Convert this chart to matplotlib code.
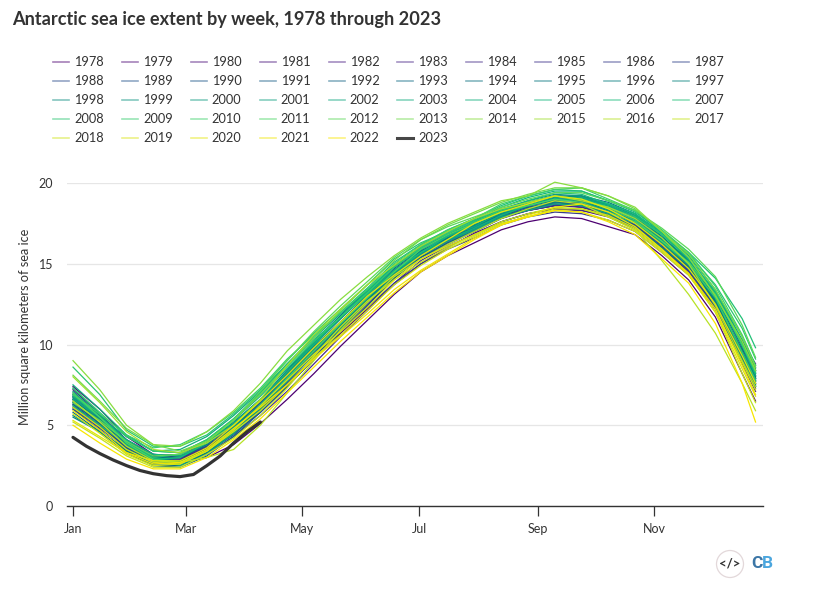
#! /usr/bin/env python3

import matplotlib

matplotlib.use("Agg")
import matplotlib.pyplot as plt
import numpy as np
from matplotlib.colors import LinearSegmentedColormap
from matplotlib.lines import Line2D
from matplotlib.patches import Circle

# day of the year for the values below (every second week, then the last week)
days = [0, 14, 28, 42, 56, 70, 84, 98, 112, 126, 140, 154, 168, 182, 196, 210, 224, 238, 252, 266, 280, 294, 308, 322, 336, 350, 357]

# million square km
y1978 = [6.9, 5.4, 3.9, 2.9, 2.7, 3.0, 3.8, 5.1, 6.6, 8.2, 9.9, 11.5, 13.1, 14.5, 15.5, 16.3, 17.1, 17.6, 17.9, 17.8, 17.3, 16.8, 15.5, 14.0, 11.7, 8.2, 6.5]
y1979 = [7.4, 6.0, 4.3, 3.2, 3.0, 3.5, 4.5, 5.8, 7.4, 9.1, 10.7, 12.2, 13.7, 15.0, 16.0, 16.9, 17.6, 18.1, 18.4, 18.3, 17.9, 17.2, 15.9, 14.5, 12.4, 9.7, 8.4]
y1980 = [7.2, 5.7, 4.1, 3.1, 3.2, 3.9, 5.1, 6.4, 8.0, 9.7, 11.3, 12.9, 14.5, 15.7, 16.5, 17.2, 17.9, 18.3, 18.6, 18.5, 18.1, 17.4, 16.2, 14.9, 12.9, 10.2, 8.8]
y1981 = [6.4, 5.1, 3.8, 2.9, 2.8, 3.5, 4.6, 6.1, 7.7, 9.4, 11.0, 12.7, 14.2, 15.4, 16.2, 17.0, 17.8, 18.3, 18.6, 18.9, 18.4, 17.7, 16.4, 14.9, 12.8, 9.5, 8.0]
y1982 = [6.8, 5.4, 4.0, 3.1, 3.0, 3.6, 4.8, 6.0, 7.6, 9.2, 10.9, 12.5, 14.1, 15.5, 16.4, 17.1, 18.0, 18.6, 19.0, 18.9, 18.3, 17.6, 16.2, 14.7, 12.5, 9.1, 7.8]
y1983 = [6.0, 4.9, 3.7, 2.9, 2.9, 3.7, 4.9, 6.4, 8.1, 9.8, 11.4, 13.0, 14.6, 15.8, 16.6, 17.4, 18.0, 18.4, 18.7, 18.5, 18.0, 17.3, 16.0, 14.5, 12.2, 8.9, 7.3]
y1984 = [6.3, 5.0, 3.6, 2.8, 2.7, 3.2, 4.3, 5.6, 7.1, 8.8, 10.5, 12.1, 13.8, 15.2, 16.1, 16.8, 17.6, 18.1, 18.4, 18.3, 18.0, 17.4, 16.0, 14.6, 12.3, 8.8, 7.1]
y1985 = [6.6, 5.3, 3.9, 3.0, 2.9, 3.5, 4.7, 6.1, 7.7, 9.4, 11.0, 12.7, 14.3, 15.6, 16.4, 17.1, 17.9, 18.3, 18.6, 18.6, 18.2, 17.6, 16.3, 14.9, 12.7, 9.4, 7.6]
y1986 = [6.1, 4.8, 3.6, 2.8, 2.8, 3.6, 4.6, 5.9, 7.5, 9.1, 10.8, 12.3, 13.8, 15.0, 15.9, 16.6, 17.4, 17.9, 18.2, 18.1, 17.7, 17.0, 15.7, 14.3, 12.2, 9.3, 7.9]
y1987 = [6.7, 5.3, 3.9, 3.0, 3.0, 3.7, 4.9, 6.2, 7.9, 9.6, 11.2, 12.8, 14.4, 15.7, 16.6, 17.3, 18.0, 18.5, 18.8, 18.7, 18.3, 17.7, 16.5, 15.1, 13.0, 10.1, 8.6]
y1988 = [7.0, 5.6, 4.1, 3.2, 3.1, 3.7, 5.0, 6.4, 8.0, 9.7, 11.3, 12.9, 14.2, 15.4, 16.3, 17.1, 18.0, 18.6, 18.9, 18.7, 18.1, 17.4, 16.1, 14.7, 12.4, 9.0, 7.5]
y1989 = [6.2, 4.9, 3.6, 2.7, 2.6, 3.3, 4.4, 5.9, 7.5, 9.2, 11.0, 12.7, 14.3, 15.6, 16.5, 17.2, 17.9, 18.4, 18.7, 18.6, 18.1, 17.3, 16.0, 14.6, 12.3, 8.9, 7.4]
y1990 = [6.0, 4.7, 3.4, 2.6, 2.7, 3.5, 4.9, 6.4, 8.1, 9.8, 11.4, 13.0, 14.5, 15.7, 16.6, 17.4, 18.1, 18.5, 18.8, 18.8, 18.3, 17.6, 16.3, 14.9, 12.7, 9.3, 7.7]
y1991 = [6.5, 5.1, 3.8, 2.9, 2.8, 3.4, 4.6, 6.1, 7.8, 9.5, 11.1, 12.7, 14.3, 15.6, 16.5, 17.3, 18.2, 18.8, 19.2, 19.2, 18.6, 17.8, 16.4, 14.8, 12.5, 9.2, 7.6]
y1992 = [6.3, 4.9, 3.5, 2.5, 2.4, 3.1, 4.3, 5.8, 7.4, 9.1, 10.8, 12.4, 14.1, 15.4, 16.3, 17.0, 17.8, 18.4, 18.8, 18.8, 18.3, 17.5, 16.2, 14.8, 12.7, 9.5, 7.9]
y1993 = [5.8, 4.6, 3.3, 2.5, 2.5, 3.3, 4.6, 6.2, 7.9, 9.7, 11.4, 13.1, 14.7, 15.9, 16.8, 17.5, 18.3, 18.8, 19.1, 19.0, 18.5, 17.8, 16.6, 15.2, 13.0, 9.8, 8.1]
y1994 = [6.8, 5.5, 4.0, 3.0, 3.0, 3.8, 5.1, 6.6, 8.3, 10.1, 11.7, 13.3, 14.9, 16.0, 16.8, 17.4, 18.1, 18.6, 19.0, 19.0, 18.6, 17.9, 16.5, 15.1, 12.8, 9.4, 7.8]
y1995 = [6.4, 5.1, 3.7, 2.9, 2.8, 3.5, 4.8, 6.6, 8.4, 10.2, 11.8, 13.4, 14.8, 16.1, 17.0, 17.7, 18.2, 18.6, 18.9, 19.1, 18.7, 18.0, 16.7, 15.2, 12.9, 9.6, 8.0]
y1996 = [6.6, 5.3, 3.9, 3.1, 3.1, 3.8, 5.1, 6.5, 8.2, 10.0, 11.6, 13.2, 14.6, 15.8, 16.6, 17.3, 18.0, 18.6, 19.1, 19.2, 18.8, 18.1, 16.6, 15.1, 12.6, 9.0, 7.4]
y1997 = [5.6, 4.6, 3.4, 2.6, 2.6, 3.3, 4.5, 6.1, 7.9, 9.6, 11.2, 12.8, 14.4, 15.7, 16.5, 17.2, 17.9, 18.4, 18.8, 18.6, 18.1, 17.3, 16.0, 14.7, 12.6, 9.2, 7.5]
y1998 = [5.5, 4.6, 3.5, 2.8, 3.0, 3.9, 5.2, 6.6, 8.2, 9.9, 11.4, 12.9, 14.5, 15.9, 16.8, 17.6, 18.3, 18.8, 19.2, 19.1, 18.6, 17.9, 16.6, 15.3, 13.1, 10.0, 8.2]
y1999 = [6.9, 5.4, 3.9, 2.9, 2.7, 3.4, 4.6, 6.1, 7.7, 9.4, 11.1, 12.7, 14.3, 15.7, 16.7, 17.4, 18.1, 18.6, 19.0, 18.9, 18.4, 17.7, 16.4, 15.0, 12.8, 9.6, 7.9]
y2000 = [6.7, 5.3, 3.7, 2.8, 2.6, 3.4, 4.9, 6.6, 8.3, 10.0, 11.6, 13.2, 14.8, 16.0, 16.9, 17.6, 18.4, 18.9, 19.3, 19.2, 18.6, 17.8, 16.5, 15.2, 13.1, 10.1, 8.3]
y2001 = [7.1, 5.6, 4.0, 3.0, 2.7, 3.4, 4.8, 6.3, 8.0, 9.7, 11.3, 12.9, 14.4, 15.6, 16.5, 17.1, 18.0, 18.6, 19.0, 18.9, 18.3, 17.6, 16.3, 15.1, 13.2, 10.3, 8.5]
y2002 = [7.3, 5.7, 3.9, 2.9, 2.5, 3.2, 4.5, 6.0, 7.7, 9.4, 11.0, 12.6, 14.2, 15.5, 16.4, 17.1, 17.9, 18.3, 18.7, 18.6, 18.1, 17.5, 16.3, 14.9, 12.9, 9.4, 7.7]
y2003 = [6.6, 5.5, 4.3, 3.4, 3.5, 4.3, 5.6, 7.1, 8.8, 10.4, 11.9, 13.4, 14.8, 15.9, 16.7, 17.3, 18.2, 18.7, 19.1, 19.1, 18.7, 18.1, 16.9, 15.5, 13.4, 10.2, 8.4]
y2004 = [7.5, 6.0, 4.4, 3.4, 3.3, 4.1, 5.3, 6.8, 8.5, 10.1, 11.7, 13.2, 14.6, 15.7, 16.5, 17.2, 18.0, 18.6, 19.0, 19.0, 18.6, 18.0, 16.8, 15.4, 13.2, 9.9, 8.1]
y2005 = [6.8, 5.5, 4.1, 3.2, 3.1, 3.9, 5.1, 6.6, 8.3, 10.0, 11.7, 13.3, 14.9, 16.1, 17.0, 17.7, 18.5, 19.1, 19.5, 19.5, 18.9, 18.3, 16.9, 15.4, 13.0, 10.0, 8.2]
y2006 = [6.2, 5.0, 3.8, 2.9, 3.0, 3.9, 5.3, 7.0, 8.7, 10.3, 11.7, 13.1, 14.5, 15.7, 16.7, 17.5, 18.3, 18.9, 19.4, 19.3, 18.7, 18.1, 16.8, 15.3, 13.3, 10.5, 8.7]
y2007 = [6.9, 5.5, 4.0, 3.0, 3.2, 4.1, 5.4, 7.0, 8.8, 10.5, 12.0, 13.5, 15.1, 16.2, 17.1, 17.8, 18.6, 19.2, 19.6, 19.5, 18.9, 18.2, 17.0, 15.7, 14.1, 11.6, 9.8]
y2008 = [8.6, 6.9, 4.7, 3.7, 3.7, 4.4, 5.7, 7.2, 9.0, 10.7, 12.2, 13.7, 15.3, 16.3, 17.0, 17.7, 18.4, 18.8, 19.2, 19.0, 18.5, 17.9, 16.8, 15.6, 13.7, 11.0, 9.1]
y2009 = [7.3, 5.8, 4.3, 3.4, 3.3, 4.1, 5.4, 6.9, 8.6, 10.2, 11.7, 13.2, 14.8, 16.0, 16.9, 17.6, 18.3, 18.8, 19.2, 19.0, 18.4, 17.7, 16.4, 15.0, 12.9, 9.5, 7.8]
y2010 = [6.9, 5.7, 4.4, 3.6, 3.8, 4.6, 5.8, 7.3, 9.1, 10.6, 12.0, 13.4, 15.0, 16.2, 17.1, 17.8, 18.7, 19.2, 19.6, 19.7, 19.0, 18.3, 17.1, 15.7, 13.6, 10.6, 8.7]
y2011 = [7.0, 5.5, 3.9, 2.9, 2.7, 3.4, 4.7, 6.2, 7.9, 9.6, 11.3, 12.9, 14.5, 15.9, 16.8, 17.5, 18.2, 18.6, 19.0, 18.8, 18.2, 17.6, 16.4, 15.1, 13.1, 10.0, 8.3]
y2012 = [6.4, 5.3, 4.0, 3.1, 3.2, 4.0, 5.3, 7.1, 9.0, 10.8, 12.4, 13.9, 15.4, 16.5, 17.3, 17.9, 18.5, 19.0, 19.4, 19.4, 18.9, 18.3, 17.2, 15.9, 14.2, 11.2, 9.2]
y2013 = [8.1, 6.5, 4.8, 3.8, 3.4, 4.0, 5.3, 6.9, 8.7, 10.4, 12.1, 13.7, 15.2, 16.5, 17.4, 18.1, 18.8, 19.3, 19.7, 19.7, 19.2, 18.4, 17.0, 15.6, 13.4, 10.5, 8.6]
y2014 = [9.0, 7.2, 5.0, 3.8, 3.7, 4.6, 5.9, 7.6, 9.6, 11.2, 12.8, 14.2, 15.5, 16.6, 17.5, 18.2, 18.9, 19.2, 20.05, 19.7, 19.2, 18.5, 17.0, 15.4, 13.0, 10.2, 8.4]
y2015 = [8.0, 6.4, 4.6, 3.5, 3.3, 3.9, 5.0, 6.6, 8.7, 10.6, 12.2, 13.7, 14.9, 16.1, 17.0, 17.8, 18.4, 18.8, 19.2, 18.9, 18.5, 17.8, 16.6, 15.0, 12.4, 9.0, 7.4]
y2016 = [6.5, 5.2, 3.7, 2.8, 2.7, 3.0, 3.5, 5.0, 7.0, 9.0, 10.9, 12.6, 14.2, 15.3, 16.2, 17.0, 17.8, 18.4, 18.9, 18.7, 17.9, 17.1, 15.2, 13.1, 10.7, 7.6, 5.9]
y2017 = [5.2, 4.2, 3.1, 2.4, 2.4, 3.2, 4.2, 5.6, 7.3, 9.3, 11.1, 12.7, 14.0, 15.1, 16.0, 16.8, 17.6, 18.1, 18.5, 18.4, 17.9, 17.1, 15.8, 14.3, 12.0, 8.2, 6.4]
y2018 = [5.7, 4.5, 3.2, 2.5, 2.6, 3.4, 4.6, 5.9, 7.5, 9.2, 10.6, 12.1, 13.7, 14.9, 15.9, 16.7, 17.5, 17.9, 18.4, 18.4, 18.0, 17.2, 15.9, 14.4, 12.0, 8.9, 7.2]
y2019 = [6.1, 4.9, 3.5, 2.7, 2.6, 3.4, 4.7, 6.2, 7.8, 9.4, 10.8, 12.3, 14.0, 15.3, 16.1, 16.8, 17.5, 17.9, 18.3, 18.2, 17.7, 17.0, 15.7, 14.3, 12.0, 8.5, 6.8]
y2020 = [5.3, 4.3, 3.3, 2.8, 2.8, 3.6, 5.0, 6.5, 8.1, 9.8, 11.4, 13.0, 14.3, 15.5, 16.5, 17.5, 18.2, 18.7, 19.2, 19.0, 18.4, 17.5, 16.2, 14.7, 12.5, 9.3, 7.6]
y2021 = [5.9, 4.7, 3.3, 2.6, 2.7, 3.5, 4.8, 6.1, 7.5, 9.1, 10.5, 11.9, 13.4, 14.6, 15.6, 16.6, 17.4, 18.0, 18.5, 18.7, 18.2, 17.3, 15.9, 14.4, 12.2, 8.7, 6.9]
y2022 = [5.0, 3.9, 2.9, 2.3, 2.3, 3.0, 4.1, 5.4, 7.0, 8.6, 10.2, 11.7, 13.2, 14.5, 15.5, 16.5, 17.4, 17.9, 18.3, 18.2, 17.6, 16.8, 15.3, 13.8, 11.3, 7.6, 5.2]

# 2023 stops in April
days2023 = [0, 7, 14, 21, 28, 35, 42, 49, 56, 63, 70, 77, 84, 91, 98]
y2023 = [4.25, 3.7, 3.25, 2.85, 2.5, 2.2, 2.0, 1.88, 1.82, 1.95, 2.5, 3.1, 3.9, 4.6, 5.2]

series = [
    y1978, y1979, y1980, y1981, y1982, y1983, y1984, y1985, y1986, y1987,
    y1988, y1989, y1990, y1991, y1992, y1993, y1994, y1995, y1996, y1997,
    y1998, y1999, y2000, y2001, y2002, y2003, y2004, y2005, y2006, y2007,
    y2008, y2009, y2010, y2011, y2012, y2013, y2014, y2015, y2016, y2017,
    y2018, y2019, y2020, y2021, y2022,
]
years = list(range(1978, 2023))

tick_days = [0, 59, 120, 181, 243, 304]
tick_labels = ["Jan", "Mar", "May", "Jul", "Sep", "Nov"]
y_ticks = [0, 5, 10, 15, 20]

# purple through teal and green to yellow
ramp = ["#4d0071", "#4a2a8a", "#22528c", "#08727f", "#0c9a80", "#14b87c", "#45d565", "#bfe320", "#f8e600"]

W, H = 824, 591
DARK = "#333333"

plt.rcParams["font.family"] = ["Lato", "DejaVu Sans"]

fig = plt.figure(figsize=(W / 100, H / 100), dpi=100)

# axes box in pixels: x 67..763, y 183..506
ax = fig.add_axes([67 / W, 1 - 506 / H, 696 / W, 323 / H])
ax.set_xlim(-3.14, 360.9)
ax.set_ylim(0, 20)

cmap = LinearSegmentedColormap.from_list("ice", ramp)
colours = cmap(np.linspace(0, 1, len(series)))
for values, colour in zip(series, colours):
    ax.plot(days, values, color=colour, lw=0.9, clip_on=False, zorder=3)
ax.plot(days2023, y2023, color=DARK, lw=2.3, solid_capstyle="round", zorder=4)

for side in ["top", "left", "right"]:
    ax.spines[side].set_visible(False)
ax.spines["bottom"].set_color(DARK)
ax.spines["bottom"].set_linewidth(1.0)

ax.set_yticks(y_ticks)
ax.set_xticks(tick_days)
ax.set_xticklabels(tick_labels)
ax.tick_params(axis="y", length=0, pad=10, labelsize=9, labelcolor=DARK)
ax.tick_params(axis="x", length=7, width=0.9, color=DARK, pad=5, labelsize=9, labelcolor=DARK)
ax.grid(axis="y", color="#e6e6e6", lw=0.9)
ax.set_axisbelow(True)

# overlay in pixel coordinates for title, legend and logo
over = fig.add_axes([0, 0, 1, 1], facecolor="none")
over.set_xlim(0, W)
over.set_ylim(H, 0)
over.axis("off")

over.text(12, 19, "Antarctic sea ice extent by week, 1978 through 2023", fontsize=13.1,
          fontweight="bold", color=DARK, va="center", ha="left")
over.text(25, 327, "Million square kilometers of sea ice", fontsize=9.2, color=DARK,
          rotation=90, va="center", ha="center")

legend_years = years + [2023]
legend_colours = list(colours) + [DARK]
for i, (year, colour) in enumerate(zip(legend_years, legend_colours)):
    col, row = i % 10, i // 10
    xs = 53 + col * 68.9
    ys = 62 + row * 19
    if year == 2023:
        over.add_line(Line2D([xs, xs + 16], [ys, ys], color=colour, lw=2.2, alpha=0.9))
    else:
        over.add_line(Line2D([xs, xs + 16], [ys, ys], color=colour, lw=1.2, alpha=0.5))
    over.text(xs + 21, ys, str(year), fontsize=9.2, color=DARK, va="center", ha="left")

over.add_patch(Circle((730, 564), 13.5, facecolor="white", edgecolor="#e3d8da", lw=0.9))
over.text(730, 563.5, "</>", fontsize=9.5, fontweight="bold", color=DARK, ha="center", va="center")
over.text(751.5, 564, "C", fontsize=12.5, fontweight="bold", color="#3c76a6", ha="left", va="center",
          family="Roboto")
over.text(762, 564, "B", fontsize=12.5, fontweight="bold", color="#4ba6de", ha="left", va="center",
          family="Roboto")

fig.savefig("out.png", dpi=100)
